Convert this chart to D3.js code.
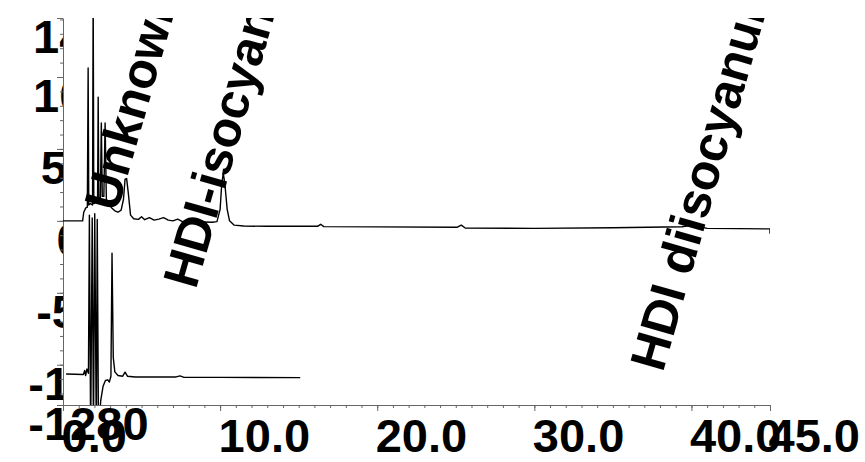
<!DOCTYPE html>
<meta charset="utf-8">
<style>
body { margin: 0; background: #fff; }
text { font-family: "Liberation Sans", Arial, sans-serif; font-weight: bold; fill: #000; }
.axis text { font-size: 47px; }
.axis line, .axis path { stroke: #666; stroke-width: 1px; }
.trace { fill: none; stroke: #000; stroke-width: 1.4px; stroke-linejoin: round; }
.peak-label { font-size: 50px; }
</style>
<body>
<svg id="chart" width="865" height="462"></svg>
<script src="https://d3js.org/d3.v7.min.js"></script>
<script>

// first run: retention time (min) and signal (mAU)
var upperTime = [0, 1.25, 1.32, 1.45, 1.55, 1.6, 1.64, 1.75, 1.88, 1.92, 1.96, 2.1, 2.2, 2.24, 2.28, 2.38, 2.44, 2.5, 2.6, 2.68, 2.76, 2.9, 3.1, 3.3, 3.5, 3.7, 3.85, 3.95, 4.05, 4.15, 4.3, 4.5, 4.8, 5.0, 5.2, 5.5, 5.8, 6.1, 6.4, 6.7, 7.0, 7.3, 7.6, 8.0, 8.5, 9.0, 9.5, 9.8, 10.0, 10.1, 10.2, 10.3, 10.45, 10.6, 10.9, 11.5, 13.0, 16.2, 16.4, 16.6, 20.0, 25.1, 25.35, 25.6, 30.0, 35.0, 39.4, 39.8, 40.1, 40.5, 41.0, 43.0, 45.0, 45.0];
var upperSignal = [0, 0, 60, 90, 95, 1062, 110, 120, 110, 1600, 120, 130, 140, 860, 150, 160, 680, 170, 170, 680, 150, 120, 90, 70, 60, 75, 150, 290, 294, 200, 40, 15, 10, 28, 8, 22, 5, 12, 22, 5, 0, 12, -5, 5, -5, -8, -10, -5, 80, 250, 332, 260, 80, 0, -30, -36, -38, -38, -24, -40, -42, -44, -30, -50, -52, -48, -41, -35, -17, -40, -52, -54, -56, -90];

// second run, drawn offset below the first
var lowerTime = [0.2, 1.3, 1.38, 1.44, 1.52, 1.62, 1.68, 1.76, 1.86, 1.94, 2.02, 2.12, 2.18, 2.26, 2.4, 2.55, 2.7, 2.85, 2.95, 3.05, 3.12, 3.2, 3.3, 3.5, 3.8, 3.95, 4.1, 4.6, 7.2, 7.45, 7.7, 10.0, 15.1];
var lowerSignal = [-1065, -1068, -1040, -1075, -1030, -1060, 40, -1500, 20, -1500, 50, -1500, 10, -1500, -1250, -1150, -1110, -1105, -1120, -1080, -224, -950, -1050, -1075, -1080, -1052, -1080, -1085, -1085, -1078, -1088, -1088, -1090];

var xTicks = [0, 10, 20, 30, 40, 45];
var yTicks = [1410, 1000, 500, 0, -500, -1000, -1280];

// where each peak label is attached (time, signal)
var peakNames = ["Unknown", "HDI-isocyanate", "HDI diisocyanurate"];
var peakTimes = [4.39, 10.2, 40.45];
var peakHeights = [567, 332, -40];

var svg = d3.select("#chart");
var margin = {left: 63, right: 770, top: 18, bottom: 405};

var x = d3.scaleLinear().domain([0, 45]).range([margin.left, margin.right]);
var y = d3.scaleLinear().domain([-1280, 1410]).range([margin.bottom, margin.top]);

// y labels go first, the plot area covers their right part
svg.append("g")
  .selectAll("text")
  .data(yTicks)
  .join("text")
    .style("font-size", "47px")
    .attr("y", function(d) { return y(d) + 35; })
    .text(function(d) { return d; })
    .each(function() {
      var w = this.getComputedTextLength();
      d3.select(this).attr("x", 64.4 - 0.3 * w);
    });

svg.append("rect")
  .attr("x", margin.left + 0.5)
  .attr("y", margin.top)
  .attr("width", margin.right - margin.left)
  .attr("height", margin.bottom - margin.top)
  .attr("fill", "#fff");

svg.append("clipPath").attr("id", "plot")
  .append("rect")
  .attr("x", margin.left)
  .attr("y", margin.top)
  .attr("width", margin.right - margin.left)
  .attr("height", margin.bottom - margin.top);

// axes
svg.append("g").attr("class", "axis")
  .attr("transform", "translate(0," + margin.bottom + ")")
  .call(d3.axisBottom(x).tickValues(d3.range(0, 46, 1)).tickSize(3).tickSizeOuter(0).tickFormat(""));

var xAxis = svg.append("g").attr("class", "axis")
  .attr("transform", "translate(0," + margin.bottom + ")")
  .call(d3.axisBottom(x).tickValues(xTicks).tickSize(6).tickSizeOuter(0).tickFormat(d3.format(".1f")));
xAxis.select(".domain").remove();
xAxis.selectAll("text")
  .attr("text-anchor", "start")
  .attr("x", -2)
  .attr("y", 47)
  .attr("dy", null);

svg.append("g").attr("class", "axis")
  .attr("transform", "translate(" + margin.left + ",0)")
  .call(d3.axisLeft(y).tickValues(d3.range(-1200, 1410, 100)).tickSize(3).tickSizeOuter(0).tickFormat(""));

svg.append("g").attr("class", "axis")
  .attr("transform", "translate(" + margin.left + ",0)")
  .call(d3.axisLeft(y).tickValues(yTicks).tickSize(6).tickSizeOuter(0).tickFormat(""))
  .select(".domain").remove();

// traces
var line = d3.line()
  .x(function(d) { return x(d[0]); })
  .y(function(d) { return y(d[1]); });

var plot = svg.append("g").attr("clip-path", "url(#plot)");

plot.append("path")
  .attr("class", "trace")
  .attr("d", line(d3.zip(lowerTime, lowerSignal)));

plot.append("path")
  .attr("class", "trace")
  .attr("d", line(d3.zip(upperTime, upperSignal)));

// peak labels
plot.selectAll("g.peak")
  .data(peakNames)
  .join("g")
    .attr("class", "peak")
    .attr("transform", function(d, i) {
      return "translate(" + x(peakTimes[i]) + "," + y(peakHeights[i]) + ") rotate(-74)";
    })
  .append("text")
    .attr("class", "peak-label")
    .attr("dy", 6)
    .text(function(d) { return d; })
    .each(function() {
      var w = this.getComputedTextLength();
      d3.select(this).attr("x", -0.333 * w);
    });

</script>
</body>
